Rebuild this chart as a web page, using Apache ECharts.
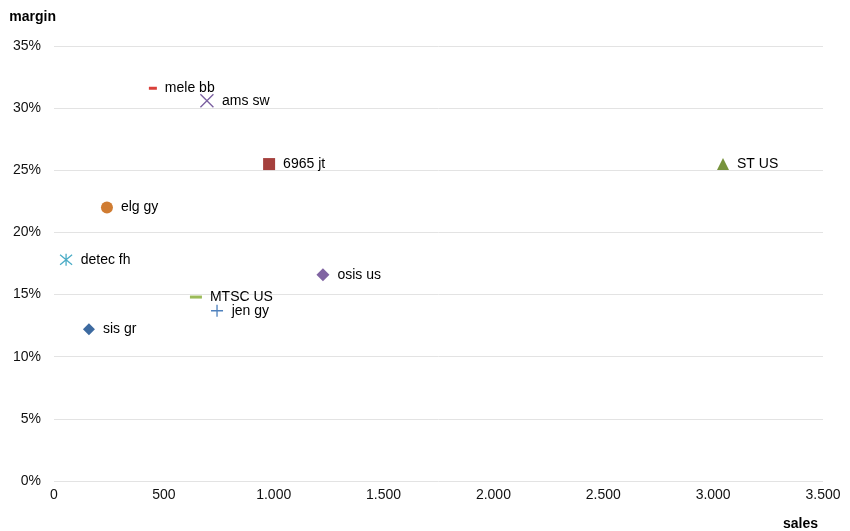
<!DOCTYPE html>
<html lang="en">
<head>
    <meta charset="UTF-8">
    <title>margin vs sales</title>
    <script src="https://cdn.jsdelivr.net/npm/echarts@6/dist/echarts.min.js"></script>
    <style>
        html, body { margin: 0; padding: 0; background: #fff; }
        #chart { width: 850px; height: 531px; }
    </style>
</head>
<body>
<div id="chart"></div>
<script>
  // data
  var names = ['mele bb', 'ams sw', '6965 jt', 'ST US', 'elg gy', 'detec fh', 'osis us', 'MTSC US', 'jen gy', 'sis gr'];
  var sales = [450, 696, 979, 3045, 241, 55, 1224, 646, 742, 159];
  var margins = [31.6, 30.6, 25.5, 25.5, 22.0, 17.8, 16.6, 14.8, 13.7, 12.2];
  var xTicks = [0, 500, 1000, 1500, 2000, 2500, 3000, 3500];
  var yTicks = [0, 5, 10, 15, 20, 25, 30, 35];

  // marker styles, same order as names
  var symbols = ['rect', 'path://M0 0L10 10M10 0L0 10', 'rect', 'triangle', 'circle',
    'path://M0 0L10 10M10 0L0 10M5 -1L5 11', 'diamond', 'rect', 'path://M5 0L5 10M0 5L10 5', 'diamond'];
  var sizes = [[8, 3], 13, 12, 12, 12, 12, 13, [12, 3], 12, 12];
  var colors = ['#d9403a', '#7a5fa0', '#a5403d', '#77933c', '#d07c32', '#4bacc6', '#8064a2', '#9bbb59', '#4f81bd', '#3d6aa0'];
  var stroked = [false, true, false, false, false, true, false, false, true, false];

  var points = names.map(function(n, i) {
    return {
      name: n,
      value: [sales[i], margins[i]],
      symbol: symbols[i],
      symbolSize: sizes[i],
      itemStyle: stroked[i]
        ? { color: 'rgba(0,0,0,0)', borderColor: colors[i], borderWidth: 1.3, opacity: 1 }
        : { color: colors[i], opacity: 1 }
    };
  });

  function fmtSales(v) {
    if (v < 1000) return String(v);
    var r = String(v % 1000);
    while (r.length < 3) r = '0' + r;
    return Math.floor(v / 1000) + '.' + r;
  }

  var font = 'Liberation Sans, Arial, sans-serif';
  var options = {
    animation: false,
    grid: { left: 54, right: 27, top: 46, bottom: 50 },
    xAxis: {
      type: 'value',
      min: xTicks[0],
      max: xTicks[xTicks.length - 1],
      interval: 500,
      axisLine: { show: false },
      axisTick: { show: false },
      splitLine: { show: false },
      axisLabel: {
        margin: 7,
        fontSize: 14,
        fontFamily: font,
        color: '#111',
        formatter: function(v) { return fmtSales(v); }
      }
    },
    yAxis: {
      type: 'value',
      min: yTicks[0],
      max: yTicks[yTicks.length - 1],
      interval: 5,
      name: 'margin',
      nameLocation: 'end',
      nameGap: 29,
      nameTextStyle: {
        align: 'right',
        verticalAlign: 'middle',
        fontWeight: 'bold',
        fontSize: 14,
        fontFamily: font,
        color: '#000',
        padding: [0, -2, 0, 0]
      },
      axisLine: { show: false },
      axisTick: { show: false },
      splitLine: { lineStyle: { color: '#e3e3e3', width: 1 } },
      axisLabel: {
        margin: 13,
        fontSize: 14,
        fontFamily: font,
        color: '#111',
        formatter: '{value}%'
      }
    },
    graphic: [{
      type: 'text',
      right: 32,
      top: 517,
      style: { text: 'sales', font: 'bold 14px ' + font, fill: '#000' }
    }],
    series: [{
      type: 'scatter',
      data: points,
      label: {
        show: true,
        position: 'right',
        distance: 8,
        formatter: '{b}',
        fontSize: 14,
        fontFamily: font,
        color: '#000'
      }
    }]
  };

  var myChart = echarts.init(document.getElementById('chart'));
  myChart.setOption(options);
</script>
</body>
</html>
